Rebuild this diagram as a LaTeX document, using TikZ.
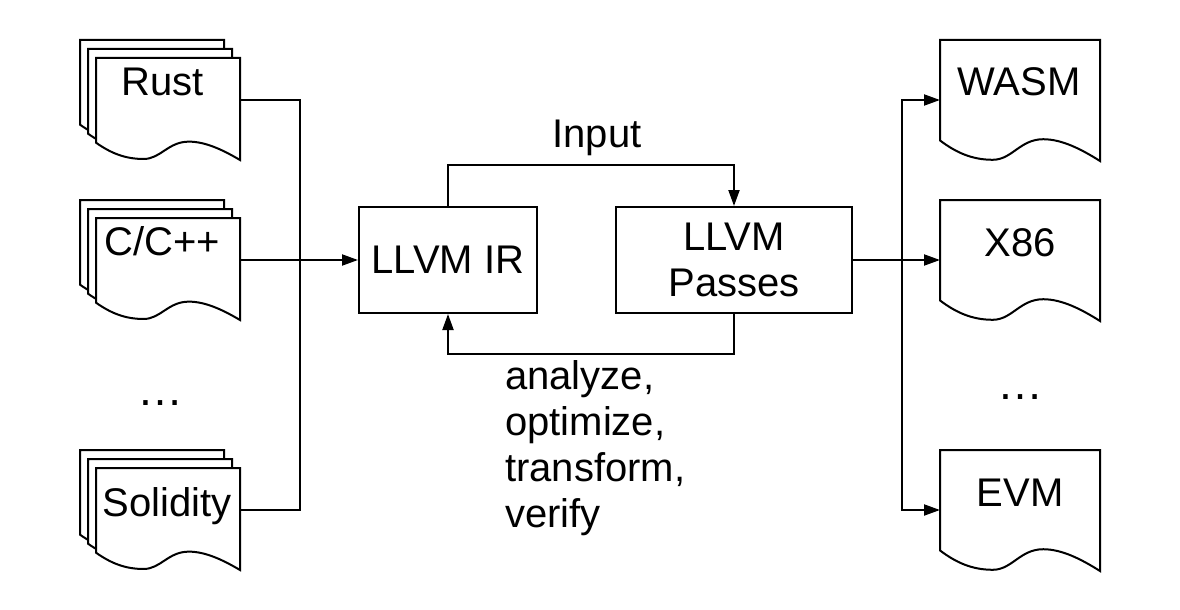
\documentclass[tikz,border=0pt]{standalone}
\usepackage{fontspec}
\setmainfont{Liberation Sans}
\usetikzlibrary{arrows.meta}
\tikzset{
  ln/.style={line width=2pt, black},
  arr/.style={ln, -{Triangle[length=16pt, width=11pt]}},
  box/.style={ln, draw, rectangle, inner sep=0pt, font=\fontsize{40}{46}\selectfont, align=center},
  lbl/.style={inner sep=0pt, font=\fontsize{40}{46}\selectfont},
  dots/.style={inner sep=0pt, font=\fontsize{46}{50}\selectfont},
  anchorbox/.style={inner sep=0pt, outer sep=0pt, rectangle, anchor=north west},
}
% #1 x, #2 y (top-left), #3 w, #4 h (right side height)
\newcommand{\docoutline}[4]{%
  \draw[ln, fill=white, line join=miter]
    (#1,#2) -- ++(#3,0) -- ++(0,#4)
    .. controls ({#1+0.88*#3},{#2+0.9*#4}) and ({#1+0.76*#3},{#2+0.82*#4}) .. ({#1+0.645*#3},{#2+0.82*#4})
    .. controls ({#1+0.5*#3},{#2+0.82*#4}) and ({#1+0.45*#3},{#2+0.99*#4}) .. ({#1+0.33*#3},{#2+0.99*#4})
    .. controls ({#1+0.2*#3},{#2+0.99*#4}) and ({#1+0.1*#3},{#2+0.93*#4}) .. ({#1},{#2+0.83*#4})
    -- cycle;}
% multi document: #1 name, #2 x, #3 y (front sheet top-left)
\newcommand{\multidoc}[3]{%
  \docoutline{#2-16}{#3-18}{144}{102}
  \docoutline{#2-8}{#3-9}{144}{102}
  \docoutline{#2}{#3}{144}{102}
  \node[anchorbox, minimum width=144pt, minimum height=84pt] (#1) at (#2,#3) {};}
% single document: #1 name, #2 x, #3 y
\newcommand{\singledoc}[3]{%
  \docoutline{#2}{#3}{160}{121}
  \node[anchorbox, minimum width=160pt, minimum height=120pt] (#1) at (#2,#3) {};}
\begin{document}
\begin{tikzpicture}[x=1pt, y=-1pt]
\useasboundingbox[fill=white] (0,0) rectangle (1180,610);

% sources
\multidoc{rust}{96}{58}
\multidoc{cpp}{96}{218}
\multidoc{sol}{96}{468}
\node[lbl, anchor=base] (rustT) at (163,95) {Rust};
\node[lbl, anchor=base] (cppT) at (162,255) {C/C++};
\node[lbl, anchor=base] (solT) at (167,516) {Solidity};
\node[dots, anchor=base] (dotsL) at (160,405) {…};

% targets
\singledoc{wasm}{940}{40}
\singledoc{x86}{940}{200}
\singledoc{evm}{940}{450}
\node[lbl, anchor=base] (wasmT) at (1019,95) {WASM};
\node[lbl, anchor=base] (x86T) at (1020,256) {X86};
\node[lbl, anchor=base] (evmT) at (1020,506) {EVM};
\node[dots, anchor=base] (dotsR) at (1020,399) {…};

% middle
\node[box, minimum width=178pt, minimum height=106pt] (ir) at (448,260) {LLVM IR};
\node[box, minimum width=236pt, minimum height=106pt] (passes) at (734,260) {LLVM\\Passes};
\node[lbl, anchor=base] (inputT) at (597,147) {Input};
\node[lbl, anchor=north west, align=left] (opsT) at (505,360) {analyze,\\optimize,\\transform,\\verify};

% connectors left
\coordinate (busL) at (300,260);
\draw[ln] (rust.east) -| (busL);
\draw[ln] (sol.east) -| (busL);
\draw[arr] (cpp.east) -- (ir.west);

% loop
\draw[arr] (ir.north) -- ++(0,-41) -| (passes.north);
\draw[arr] (passes.south) -- ++(0,40) -| (ir.south);

% connectors right
\coordinate (busR) at (902,260);
\draw[ln] (passes.east) -- (busR);
\draw[arr] (busR) |- (wasm.west);
\draw[arr] (busR) -- (x86.west);
\draw[arr] (busR) |- (evm.west);
\end{tikzpicture}
\end{document}
